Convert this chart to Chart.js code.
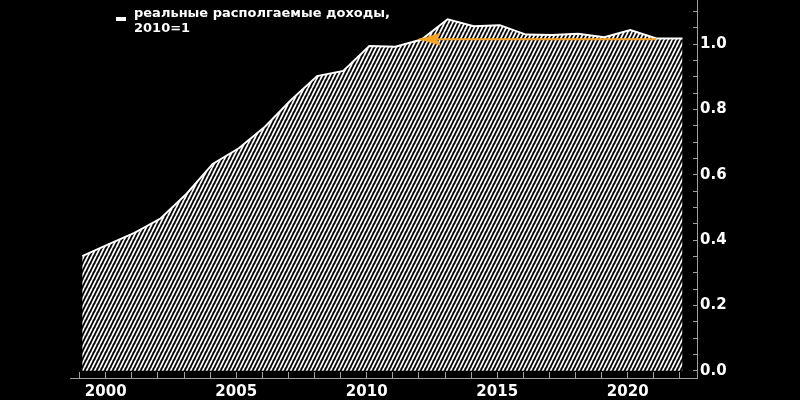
<!DOCTYPE html>
<html>
<head>
<meta charset="utf-8">
<script src="https://cdn.jsdelivr.net/npm/chart.js@4.4.1/dist/chart.umd.min.js"></script>
<style>
	html, body { margin: 0; padding: 0; background: #000; }
	#wrap { width: 800px; height: 400px; position: relative; }
</style>
</head>
<body>
<div id="wrap"><canvas id="myChart"></canvas></div>
<script>
// real disposable income, 2010 = 1 (annual)
const years = [1999, 2000, 2001, 2002, 2003, 2004, 2005, 2006, 2007, 2008, 2009, 2010,
	2011, 2012, 2013, 2014, 2015, 2016, 2017, 2018, 2019, 2020, 2021, 2022];
const income = [0.351, 0.387, 0.422, 0.466, 0.542, 0.633, 0.681, 0.747, 0.829, 0.902, 0.918, 0.994,
	0.992, 1.014, 1.076, 1.055, 1.058, 1.029, 1.028, 1.032, 1.021, 1.043, 1.017, 1.017];
const pointDate = 0.1; // annual figures sit a little after Jan 1st on the time axis

const legendLines = ["реальные располгаемые доходы,", "2010=1"];

// orange arrow: today's level goes back to 2012
const arrowYears = [2021.1, 2012.0];
const arrowLevel = 1.015;

const xTickYears = [1999, 2000, 2001, 2002, 2003, 2004, 2005, 2006, 2007, 2008, 2009, 2010,
	2011, 2012, 2013, 2014, 2015, 2016, 2017, 2018, 2019, 2020, 2021, 2022];
const yTickValues = [0, 0.05, 0.1, 0.15, 0.2, 0.25, 0.3, 0.35, 0.4, 0.45, 0.5, 0.55, 0.6,
	0.65, 0.7, 0.75, 0.8, 0.85, 0.9, 0.95, 1.0, 1.05, 1.1];

const FONT = "'DejaVu Sans', Verdana, sans-serif";
const ORANGE = "#f7a325";
const AXIS = "#a0a0a0";

// hatch pattern for the area
function makeHatch() {
	const tile = document.createElement("canvas");
	tile.width = 4;
	tile.height = 8;
	const c = tile.getContext("2d");
	c.strokeStyle = "#fff";
	c.lineWidth = 1.8;
	for (const o of [-4, 0, 4]) {
		c.beginPath();
		c.moveTo(o, 8);
		c.lineTo(o + 4, 0);
		c.stroke();
	}
	return document.getElementById("myChart").getContext("2d").createPattern(tile, "repeat");
}

// arrowhead with its tip at the centre of the image
function makeArrowHead() {
	const img = document.createElement("canvas");
	img.width = 48;
	img.height = 16;
	const c = img.getContext("2d");
	c.fillStyle = ORANGE;
	c.beginPath();
	c.moveTo(24, 8);
	c.lineTo(46, 1.5);
	c.lineTo(42, 8);
	c.lineTo(46, 14.5);
	c.closePath();
	c.fill();
	return img;
}

const legendPlugin = {
	id: "topLegend",
	afterDraw(chart) {
		const ctx = chart.ctx;
		ctx.save();
		ctx.fillStyle = "#fff";
		ctx.fillRect(116, 17, 10, 4);
		ctx.font = "bold 13px " + FONT;
		ctx.textBaseline = "alphabetic";
		ctx.textAlign = "left";
		legendLines.forEach((line, i) => ctx.fillText(line, 134, 17 + i * 15));
		ctx.restore();
	}
};

function noPadding(scale) {
	scale.paddingTop = 0;
	scale.paddingBottom = 0;
	scale.paddingLeft = 0;
	scale.paddingRight = 0;
}

Chart.defaults.font.family = FONT;
Chart.defaults.font.weight = "bold";
Chart.defaults.color = "#fff";

new Chart(document.getElementById("myChart"), {
	type: "line",
	data: {
		datasets: [
			{
				label: "arrow",
				data: arrowYears.map(y => ({ x: y, y: arrowLevel })),
				borderColor: ORANGE,
				borderWidth: 2,
				pointStyle: makeArrowHead(),
				pointRadius: [0, 5],
				fill: false,
				order: 0
			},
			{
				label: legendLines.join(" "),
				data: years.map((y, i) => ({ x: y + pointDate, y: income[i] })),
				borderColor: "#fff",
				borderWidth: 2,
				backgroundColor: makeHatch(),
				pointRadius: 0,
				tension: 0,
				fill: "origin",
				order: 1
			}
		]
	},
	options: {
		responsive: true,
		maintainAspectRatio: false,
		animation: false,
		events: [],
		layout: { autoPadding: false, padding: { left: 70, right: 0, top: 0, bottom: 0 } },
		plugins: {
			legend: { display: false },
			tooltip: { enabled: false }
		},
		scales: {
			x: {
				type: "linear",
				position: "bottom",
				min: 1998.632,
				max: 2022.655,
				afterBuildTicks: scale => { scale.ticks = xTickYears.map(v => ({ value: v })); },
				afterFit: scale => { scale.height = 22; noPadding(scale); },
				ticks: {
					autoSkip: false,
					maxRotation: 0,
					padding: 11,
					color: "#fff",
					font: { size: 15, weight: "bold" },
					callback: v => (v % 5 === 0 ? String(v) : "")
				},
				grid: { drawOnChartArea: false, drawTicks: true, tickLength: -6, color: AXIS },
				border: { display: true, color: AXIS, width: 1 }
			},
			y: {
				position: "right",
				min: -0.0223,
				max: 1.135,
				afterBuildTicks: scale => { scale.ticks = yTickValues.map(v => ({ value: v })); },
				afterFit: scale => { scale.width = 103; noPadding(scale); },
				ticks: {
					autoSkip: false,
					padding: 7,
					color: "#fff",
					font: { size: 15, weight: "bold" },
					callback: v => (Math.abs(v * 5 - Math.round(v * 5)) < 1e-6 ? v.toFixed(1) : "")
				},
				grid: { drawOnChartArea: false, drawTicks: true, tickLength: -4, color: AXIS },
				border: { display: true, color: AXIS, width: 1 }
			}
		}
	},
	plugins: [legendPlugin]
});
</script>
</body>
</html>
